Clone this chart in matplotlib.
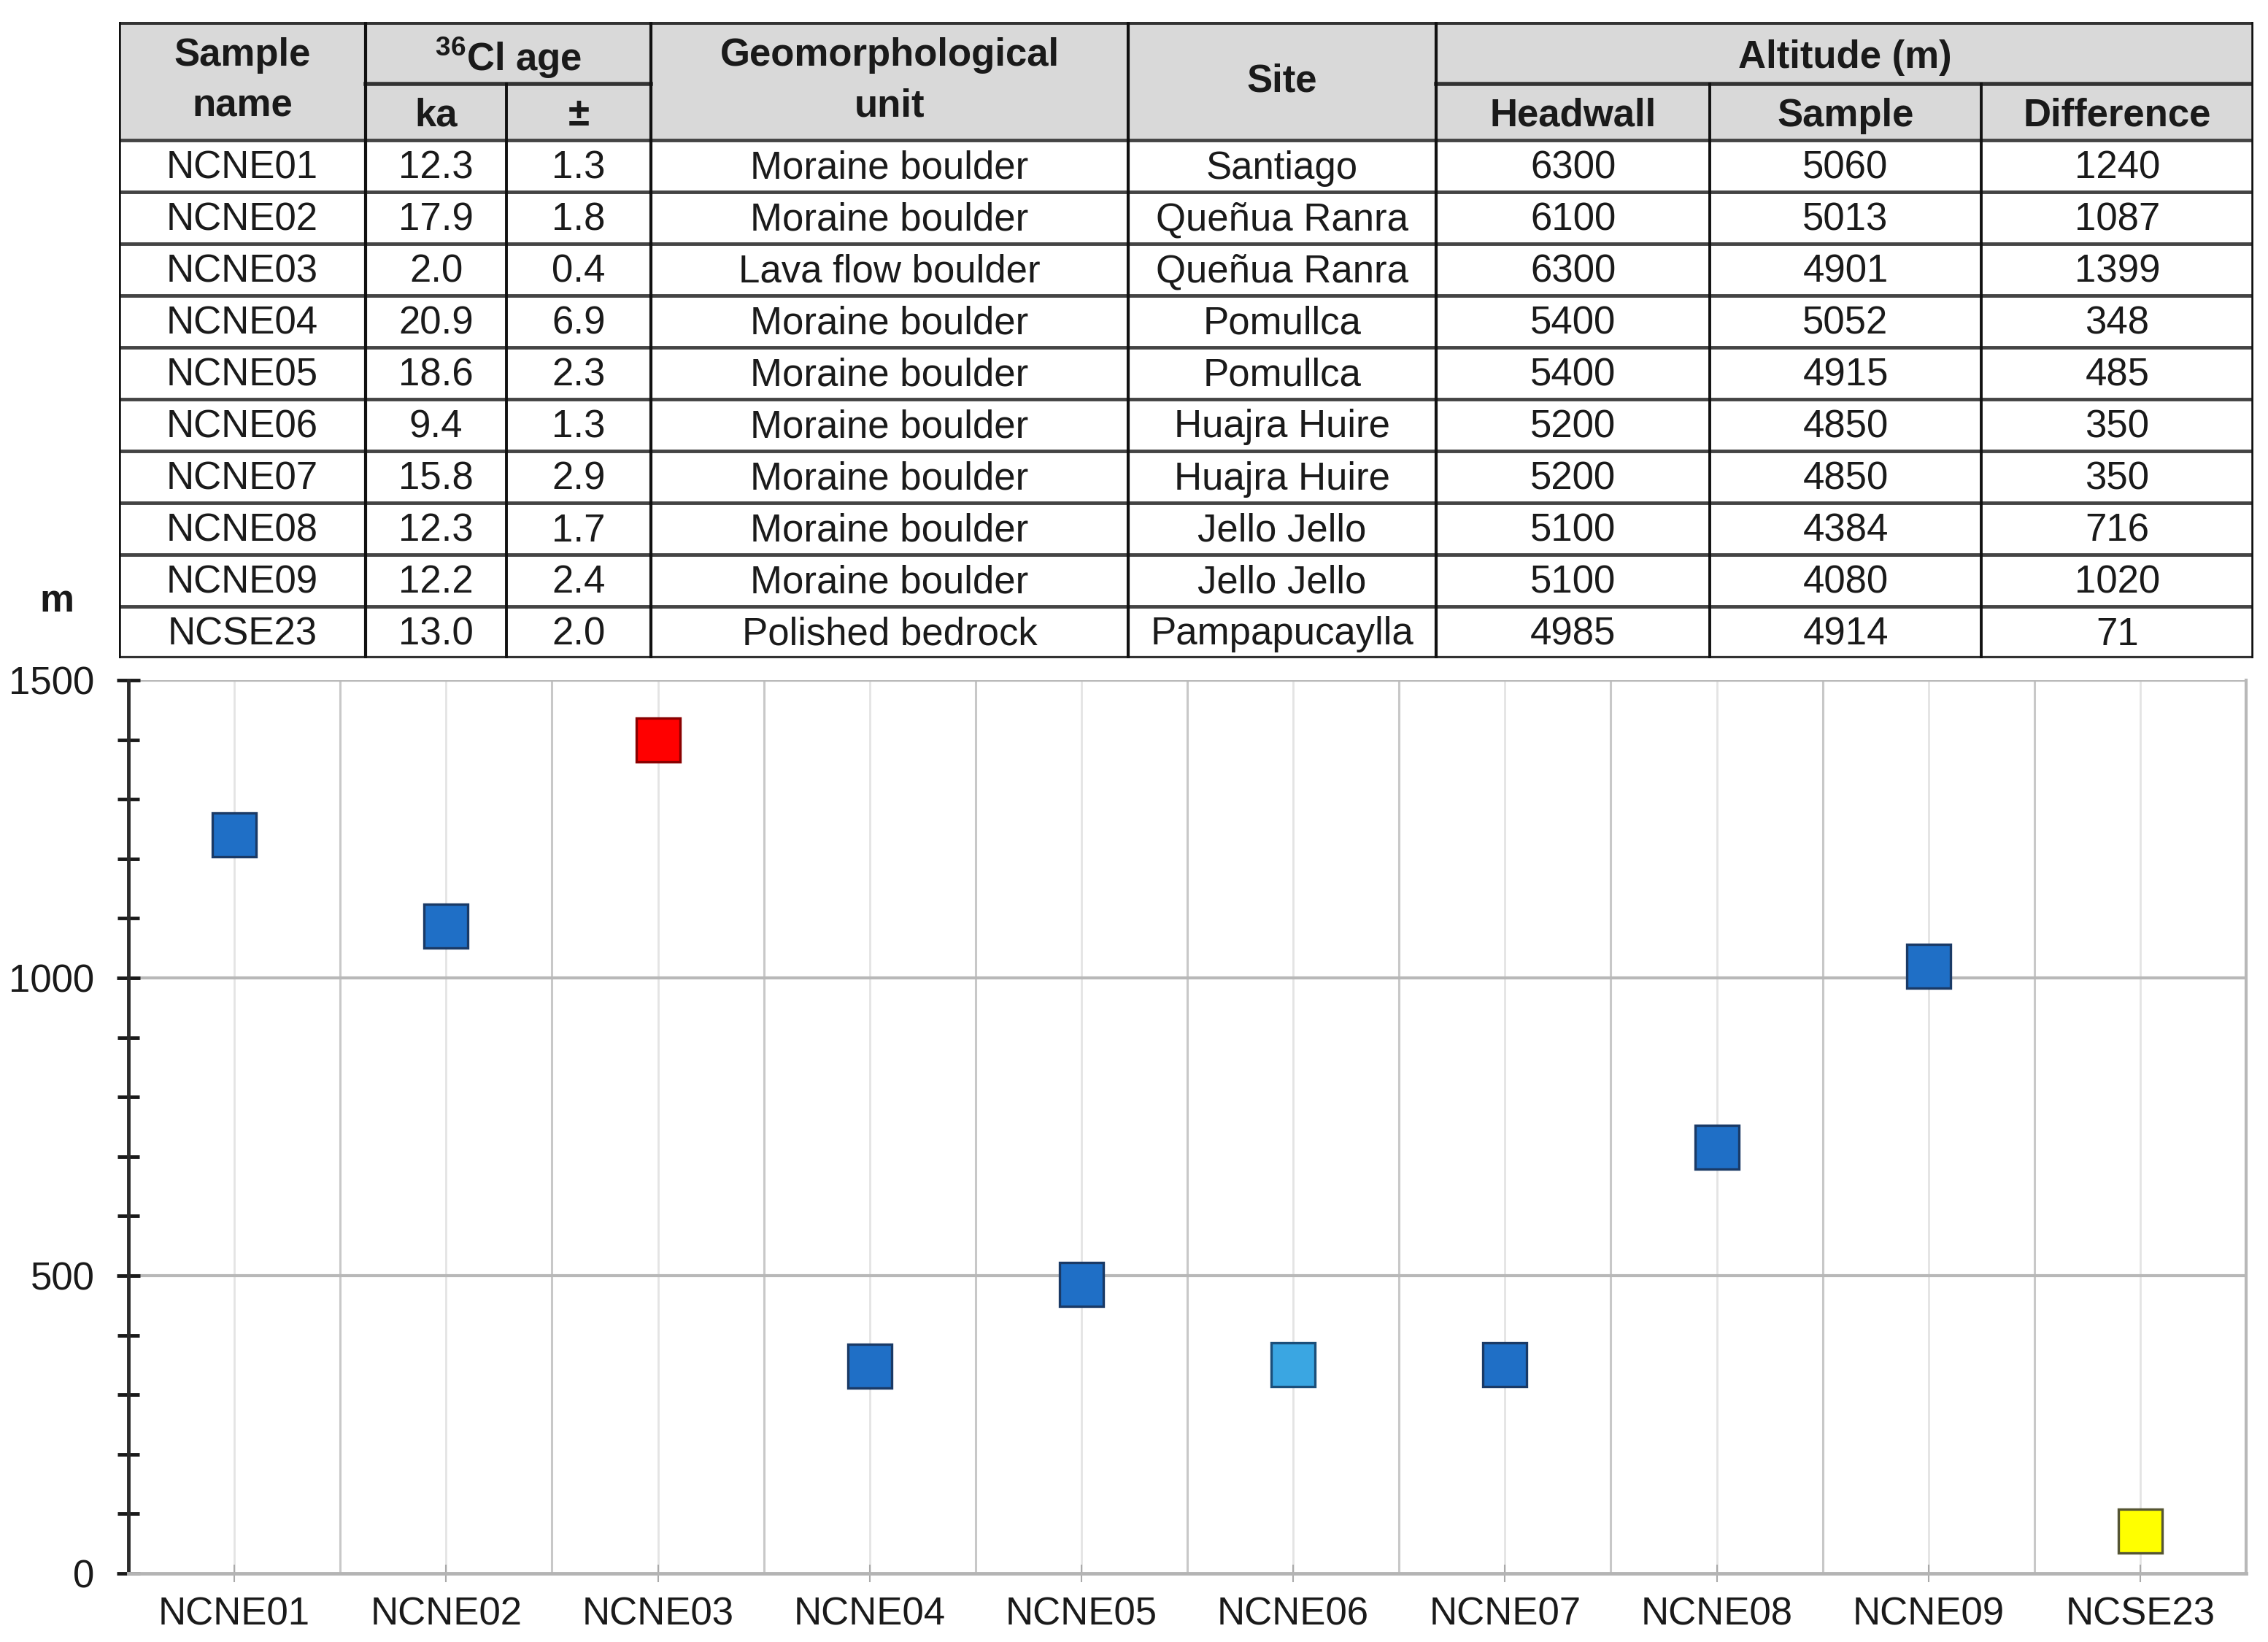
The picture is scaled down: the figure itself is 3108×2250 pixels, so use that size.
import numpy as np
import matplotlib
matplotlib.use("Agg")
import matplotlib.pyplot as plt
from matplotlib.ticker import MultipleLocator, FixedLocator

plt.rcParams['font.family'] = ['Liberation Sans', 'DejaVu Sans']
plt.rcParams['mathtext.fontset'] = 'custom'
plt.rcParams['mathtext.rm'] = 'Liberation Sans'
plt.rcParams['mathtext.bf'] = 'Liberation Sans:bold'

# table / chart data
samples = ["NCNE01", "NCNE02", "NCNE03", "NCNE04", "NCNE05",
           "NCNE06", "NCNE07", "NCNE08", "NCNE09", "NCSE23"]
age_ka = ["12.3", "17.9", "2.0", "20.9", "18.6", "9.4", "15.8", "12.3", "12.2", "13.0"]
age_err = ["1.3", "1.8", "0.4", "6.9", "2.3", "1.3", "2.9", "1.7", "2.4", "2.0"]
units = ["Moraine boulder", "Moraine boulder", "Lava flow boulder", "Moraine boulder",
         "Moraine boulder", "Moraine boulder", "Moraine boulder", "Moraine boulder",
         "Moraine boulder", "Polished bedrock"]
sites = ["Santiago", "Queñua Ranra", "Queñua Ranra", "Pomullca", "Pomullca",
         "Huajra Huire", "Huajra Huire", "Jello Jello", "Jello Jello", "Pampapucaylla"]
headwall = [6300, 6100, 6300, 5400, 5400, 5200, 5200, 5100, 5100, 4985]
sample_alt = [5060, 5013, 4901, 5052, 4915, 4850, 4850, 4384, 4080, 4914]
difference = [1240, 1087, 1399, 348, 485, 350, 350, 716, 1020, 71]
point_colors = ["#1f6fc6", "#1f6fc6", "#ff0000", "#1f6fc6", "#1f6fc6",
                "#3aa6e2", "#1f6fc6", "#1f6fc6", "#1f6fc6", "#ffff00"]
edge_colors = ["#1a3a66", "#1a3a66", "#8a0000", "#1a3a66", "#1a3a66",
               "#1b4f7a", "#1a3a66", "#1a3a66", "#1a3a66", "#555533"]

W, H = 3108, 2250
fig = plt.figure(figsize=(W / 100, H / 100), dpi=100, facecolor="white")

FS = 38
TXT = "#1a1a1a"

# ---------------- table ----------------
col_edges = [163, 501, 694, 892, 1546, 1968, 2343, 2715, 3088]
row_edges = [30, 115, 192] + [192 + 71 * (i + 1) for i in range(10)]
tl, tr = col_edges[0], col_edges[-1]
tt, tb = row_edges[0], row_edges[-1]
tax = fig.add_axes([tl / W, 1 - tb / H, (tr - tl) / W, (tb - tt) / H])
tax.set_xlim(tl, tr)
tax.set_ylim(tb, tt)
tax.axis("off")

# header background
tax.fill_between([tl, tr], tt, row_edges[2], color="#d9d9d9", lw=0)

def cx(i, j=None):
    j = i if j is None else j
    return (col_edges[i] + col_edges[j + 1]) / 2

def cy(r, s=None):
    s = r if s is None else s
    return (row_edges[r] + row_edges[s + 1]) / 2

hkw = dict(ha="center", va="center", fontsize=FS, fontweight="bold", color=TXT)
tax.text(cx(0), cy(0, 1), "Sample\nname", linespacing=1.5, **hkw)
tax.text(cx(1, 2), cy(0) + 7, r"$^{\mathbf{36}}$Cl age", **hkw)
tax.text(cx(1), cy(1) + 5, "ka", **hkw)
tax.text(cx(2), cy(1) + 5, "±", **hkw)
tax.text(cx(3), cy(0, 1), "Geomorphological\nunit", linespacing=1.5, **hkw)
tax.text(cx(4), cy(0, 1), "Site", **hkw)
tax.text(cx(5, 7), cy(0) + 7, "Altitude (m)", **hkw)
tax.text(cx(5), cy(1) + 5, "Headwall", **hkw)
tax.text(cx(6), cy(1) + 5, "Sample", **hkw)
tax.text(cx(7), cy(1) + 5, "Difference", **hkw)

dkw = dict(ha="center", va="center", fontsize=FS, color=TXT)
for r in range(len(samples)):
    vals = [samples[r], age_ka[r], age_err[r], units[r], sites[r],
            str(headwall[r]), str(sample_alt[r]), str(difference[r])]
    for c, v in enumerate(vals):
        tax.text(cx(c), cy(r + 2) + 3, v, **dkw)

# horizontal lines
tax.plot([tl, tr], [tt, tt], color="#333333", lw=5, solid_capstyle="butt")
tax.plot([col_edges[1], col_edges[3]], [row_edges[1]] * 2, color="#333333", lw=4)
tax.plot([col_edges[5], tr], [row_edges[1]] * 2, color="#333333", lw=4)
for y in row_edges[2:-1]:
    tax.plot([tl, tr], [y, y], color="#444444", lw=3.5)
tax.plot([tl, tr], [tb, tb], color="#333333", lw=4.5)
# vertical lines
for i, x in enumerate(col_edges):
    if i in (2, 6, 7):
        tax.plot([x, x], [row_edges[1], tb], color="#111111", lw=2.8)
    else:
        tax.plot([x, x], [tt, tb], color="#111111", lw=3 if 0 < i < 8 else 4)

# ---------------- chart ----------------
ax = fig.add_axes([176 / W, 1 - 2156 / H, (3078 - 176) / W, (2156 - 932) / H])
x = np.arange(len(samples))
ax.set_xlim(-0.5, len(samples) - 0.5)
ax.set_ylim(0, 1500)

# grid lines
for b in np.arange(0.5, len(samples) - 0.5, 1.0):
    ax.axvline(b, color="#c8c8c8", lw=2.2, zorder=1)
for c in x:
    ax.axvline(c, color="#e4e4e4", lw=2.0, zorder=1)
for yv in [500, 1000, 1500]:
    ax.axhline(yv, color="#b8b8b8", lw=3, zorder=1)

for xi, yi, fc, ec in zip(x, difference, point_colors, edge_colors):
    ax.plot(xi, yi, marker="s", markersize=43, markerfacecolor=fc,
            markeredgecolor=ec, markeredgewidth=2.4, linestyle="none", zorder=3)

ax.spines["top"].set_visible(False)
ax.spines["right"].set_color("#b8b8b8")
ax.spines["right"].set_linewidth(3)
ax.spines["bottom"].set_color("#b4b4b4")
ax.spines["bottom"].set_linewidth(3.5)
ax.spines["left"].set_color("#2a2a2a")
ax.spines["left"].set_linewidth(3.5)

ax.yaxis.set_major_locator(FixedLocator([0, 500, 1000, 1500]))
ax.yaxis.set_minor_locator(MultipleLocator(100))
ax.tick_params(axis="y", which="major", direction="inout", length=23, width=3.5,
               color="#1a1a1a", labelsize=FS, labelcolor=TXT, pad=22)
ax.tick_params(axis="y", which="minor", direction="inout", length=21, width=3.5,
               color="#1a1a1a")
ax.set_xticks(x)
ax.set_xticklabels(samples)
ax.tick_params(axis="x", which="major", direction="inout", length=17, width=1.5,
               color="#aaaaaa", labelsize=FS, labelcolor=TXT, pad=14)

fig.text(78 / W, 1 - 824 / H, "m", ha="center", va="center", fontsize=FS,
         fontweight="bold", color=TXT)

fig.savefig("out.png", dpi=100, facecolor="white")
